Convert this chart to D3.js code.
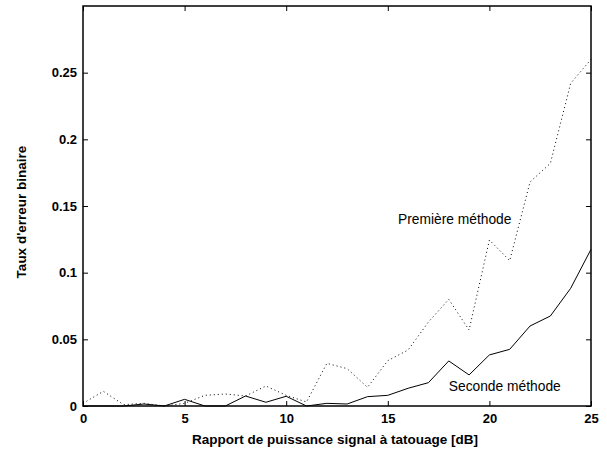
<!DOCTYPE html>
<html>
<head>
<meta charset="utf-8">
<script src="https://cdn.jsdelivr.net/npm/d3@7"></script>
<style>
  body { margin: 0; background: #fff; }
  svg { display: block; font-family: "Liberation Sans", Arial, sans-serif; }
</style>
</head>
<body>
<div id="chart"></div>
<script>
// snr values (dB)
const snr = d3.range(0, 26)
// first method, dotted
const premiere = [0.002, 0.011, 0.001, 0.002, 0.000, 0.002, 0.008, 0.009, 0.0075, 0.015,
  0.008, 0.003, 0.032, 0.028, 0.014, 0.034, 0.042, 0.063, 0.080, 0.057,
  0.1245, 0.109, 0.168, 0.182, 0.242, 0.260]
// second method, solid
const seconde = [0, 0, 0, 0.0015, 0, 0.005, 0, 0, 0.0075, 0.0028,
  0.0073, 0, 0.002, 0.0015, 0.007, 0.008, 0.0133, 0.0175, 0.0338, 0.0233,
  0.0383, 0.0425, 0.060, 0.0675, 0.0883, 0.1175]
const xTicks = [0, 5, 10, 15, 20, 25]
const yTicks = [0, 0.05, 0.1, 0.15, 0.2, 0.25]

let width = 607, height = 453
let margin = {top: 6, right: 16, bottom: 47, left: 83}
let w = width - margin.left - margin.right
let h = height - margin.top - margin.bottom

let svg = d3.select("#chart").append("svg")
  .attr("width", width)
  .attr("height", height)

let g = svg.append("g")
  .attr("transform", "translate(" + margin.left + "," + margin.top + ")")

let x = d3.scaleLinear().domain([0, 25]).range([0, w])
let y = d3.scaleLinear().domain([0, 0.3]).range([h, 0])

let tickLen = 5

// axes, ticks pointing inward like matlab
let xAxis = g.append("g")
  .attr("transform", "translate(0," + h + ")")
  .call(d3.axisBottom(x).tickValues(xTicks).tickSize(-tickLen).tickPadding(8).tickFormat(d3.format("d")))
let xTop = g.append("g")
  .call(d3.axisTop(x).tickValues(xTicks).tickSize(-tickLen).tickFormat(""))
let yAxis = g.append("g")
  .call(d3.axisLeft(y).tickValues(yTicks).tickSize(-tickLen).tickPadding(6).tickFormat(d => d === 0 ? "0" : String(d)))
let yRight = g.append("g")
  .attr("transform", "translate(" + w + ",0)")
  .call(d3.axisRight(y).tickValues(yTicks).tickSize(-tickLen).tickFormat(""))

;[xAxis, xTop, yAxis, yRight].forEach(a => {
  a.select(".domain").remove()
  a.selectAll("line").attr("stroke", "#000")
  a.selectAll("text")
    .attr("fill", "#000")
    .style("font-size", "13px")
    .style("font-weight", "bold")
})

// box
g.append("rect")
  .attr("width", w)
  .attr("height", h)
  .attr("fill", "none")
  .attr("stroke", "#000")
  .attr("stroke-width", 1.5)

let line = d3.line()
  .x((d, i) => x(snr[i]))
  .y(d => y(d))

g.append("path")
  .datum(premiere)
  .attr("d", line)
  .attr("fill", "none")
  .attr("stroke", "#000")
  .attr("stroke-width", 1)
  .attr("stroke-dasharray", "1,3")

g.append("path")
  .datum(seconde)
  .attr("d", line)
  .attr("fill", "none")
  .attr("stroke", "#000")
  .attr("stroke-width", 1)

// curve labels
g.append("text")
  .attr("x", x(15.5))
  .attr("y", y(0.1365))
  .style("font-size", "13.8px")
  .text("Première méthode")

g.append("text")
  .attr("x", x(18.0))
  .attr("y", y(0.011))
  .style("font-size", "13.8px")
  .text("Seconde méthode")

// axis titles
svg.append("text")
  .attr("x", 335)
  .attr("y", 444)
  .attr("text-anchor", "middle")
  .style("font-size", "13.5px")
  .style("font-weight", "bold")
  .text("Rapport de puissance signal à tatouage [dB]")

svg.append("text")
  .attr("transform", "translate(26,212) rotate(-90)")
  .attr("text-anchor", "middle")
  .style("font-size", "13.5px")
  .style("font-weight", "bold")
  .text("Taux d'erreur binaire")
</script>
</body>
</html>
